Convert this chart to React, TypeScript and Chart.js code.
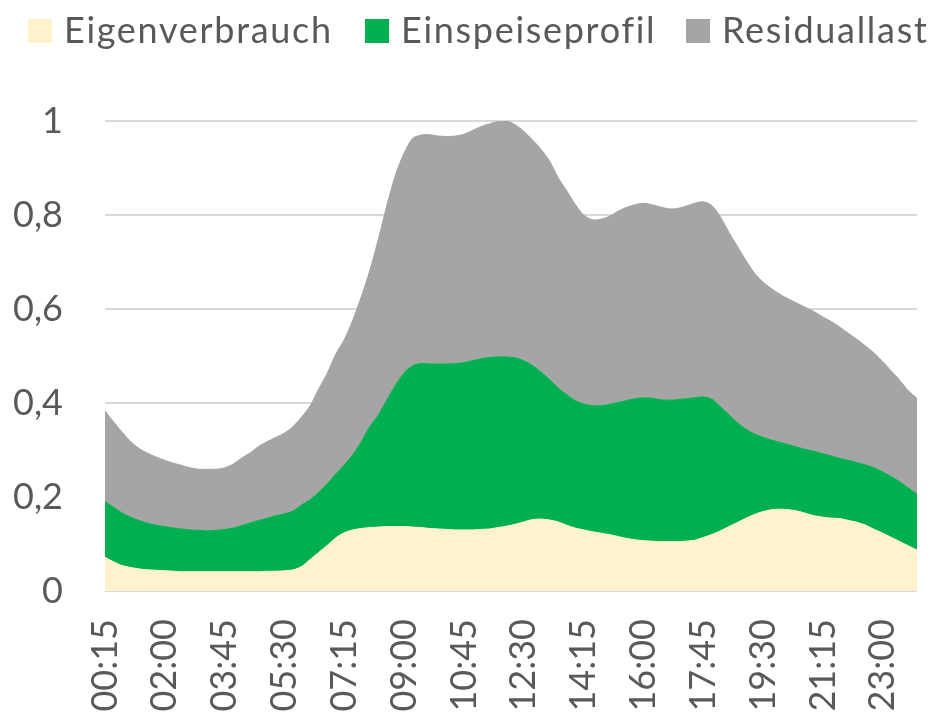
import React, { useEffect, useRef } from "react";
import { Chart, registerables } from "chart.js";

Chart.register(...registerables);

const timeLabels = [
  "00:15", "00:30", "00:45", "01:00", "01:15", "01:30", "01:45", "02:00",
  "02:15", "02:30", "02:45", "03:00", "03:15", "03:30", "03:45", "04:00",
  "04:15", "04:30", "04:45", "05:00", "05:15", "05:30", "05:45", "06:00",
  "06:15", "06:30", "06:45", "07:00", "07:15", "07:30", "07:45", "08:00",
  "08:15", "08:30", "08:45", "09:00", "09:15", "09:30", "09:45", "10:00",
  "10:15", "10:30", "10:45", "11:00", "11:15", "11:30", "11:45", "12:00",
  "12:15", "12:30", "12:45", "13:00", "13:15", "13:30", "13:45", "14:00",
  "14:15", "14:30", "14:45", "15:00", "15:15", "15:30", "15:45", "16:00",
  "16:15", "16:30", "16:45", "17:00", "17:15", "17:30", "17:45", "18:00",
  "18:15", "18:30", "18:45", "19:00", "19:15", "19:30", "19:45", "20:00",
  "20:15", "20:30", "20:45", "21:00", "21:15", "21:30", "21:45", "22:00",
  "22:15", "22:30", "22:45", "23:00", "23:15", "23:30", "23:45", "00:00",
];

const eigenverbrauch = [
  0.072, 0.062, 0.054, 0.050, 0.047, 0.045, 0.044, 0.043, 0.042, 0.041,
  0.041, 0.041, 0.041, 0.041, 0.041, 0.041, 0.041, 0.041, 0.041, 0.042,
  0.042, 0.043, 0.045, 0.052, 0.067, 0.082, 0.097, 0.113, 0.124, 0.130,
  0.133, 0.135, 0.136, 0.137, 0.137, 0.137, 0.136, 0.135, 0.133, 0.132,
  0.131, 0.130, 0.130, 0.130, 0.131, 0.132, 0.135, 0.138, 0.142, 0.147,
  0.152, 0.153, 0.151, 0.147, 0.140, 0.134, 0.130, 0.126, 0.123, 0.120,
  0.116, 0.112, 0.109, 0.107, 0.106, 0.105, 0.105, 0.105, 0.106, 0.108,
  0.114, 0.120, 0.128, 0.137, 0.146, 0.155, 0.163, 0.169, 0.173, 0.174,
  0.173, 0.170, 0.165, 0.160, 0.157, 0.155, 0.154, 0.150, 0.146, 0.140,
  0.131, 0.123, 0.114, 0.105, 0.096, 0.087,
];

const einspeiseprofil = [
  0.118, 0.116, 0.112, 0.107, 0.103, 0.099, 0.096, 0.094, 0.092, 0.091,
  0.089, 0.088, 0.087, 0.088, 0.090, 0.093, 0.098, 0.104, 0.109, 0.113,
  0.118, 0.121, 0.125, 0.131, 0.127, 0.128, 0.131, 0.136, 0.144, 0.160,
  0.185, 0.215, 0.239, 0.270, 0.301, 0.327, 0.343, 0.349, 0.350, 0.351,
  0.352, 0.354, 0.356, 0.360, 0.363, 0.365, 0.363, 0.360, 0.354, 0.343,
  0.328, 0.313, 0.299, 0.285, 0.278, 0.271, 0.268, 0.268, 0.271, 0.277,
  0.285, 0.293, 0.300, 0.304, 0.304, 0.302, 0.301, 0.302, 0.303, 0.303,
  0.299, 0.288, 0.264, 0.238, 0.212, 0.189, 0.171, 0.158, 0.148, 0.142,
  0.138, 0.136, 0.136, 0.137, 0.135, 0.132, 0.128, 0.128, 0.127, 0.128,
  0.131, 0.130, 0.129, 0.127, 0.123, 0.119,
];

const residuallast = [
  0.193, 0.182, 0.172, 0.161, 0.153, 0.149, 0.145, 0.141, 0.138, 0.135,
  0.132, 0.130, 0.131, 0.130, 0.131, 0.136, 0.144, 0.149, 0.158, 0.163,
  0.167, 0.172, 0.180, 0.187, 0.200, 0.220, 0.235, 0.255, 0.267, 0.287,
  0.309, 0.333, 0.375, 0.415, 0.448, 0.468, 0.484, 0.486, 0.488, 0.485,
  0.484, 0.484, 0.486, 0.490, 0.494, 0.497, 0.501, 0.502, 0.496, 0.488,
  0.480, 0.474, 0.465, 0.448, 0.434, 0.418, 0.402, 0.396, 0.397, 0.400,
  0.407, 0.411, 0.413, 0.414, 0.412, 0.410, 0.407, 0.407, 0.410, 0.414,
  0.415, 0.412, 0.404, 0.388, 0.375, 0.359, 0.342, 0.330, 0.322, 0.315,
  0.310, 0.306, 0.302, 0.297, 0.291, 0.286, 0.279, 0.270, 0.262, 0.253,
  0.244, 0.235, 0.225, 0.216, 0.207, 0.204,
];

const seriesNames = ["Eigenverbrauch", "Einspeiseprofil", "Residuallast"];
const seriesColors = ["#FFF2CC", "#00B050", "#A5A5A5"];
const yMin = 0;
const yMax = 1;
const yStep = 0.2;
const labelEvery = 7;

const TEXT_COLOR = "#595959";
const FONT_FAMILY = "Lato, 'Open Sans', sans-serif";

const legendLayout = [
  { box: 28, text: 64 },
  { box: 365, text: 401 },
  { box: 686, text: 722 },
];

export default function App() {
  const ref = useRef<HTMLCanvasElement>(null);

  useEffect(() => {
    const canvas = ref.current;
    if (!canvas) return;
    const seriesData = [eigenverbrauch, einspeiseprofil, residuallast];
    const chart = new Chart(canvas, {
      type: "line",
      data: {
        labels: timeLabels,
        datasets: seriesNames.map((name, i) => ({
          label: name,
          data: seriesData[i],
          backgroundColor: seriesColors[i],
          borderColor: seriesColors[i],
          borderWidth: 1,
          pointRadius: 0,
          pointHoverRadius: 0,
          tension: 0.3,
          fill: i === 0 ? "origin" : "-1",
        })),
      },
      options: {
        animation: false,
        responsive: false,
        devicePixelRatio: 1,
        layout: { padding: { top: 121, right: 13, bottom: 0, left: 0 } },
        plugins: {
          legend: { display: false },
          tooltip: { enabled: false },
        },
        scales: {
          x: {
            type: "category",
            offset: false,
            grid: { display: false, drawTicks: false },
            border: { display: false },
            ticks: {
              autoSkip: false,
              maxRotation: 90,
              minRotation: 90,
              padding: 28,
              color: TEXT_COLOR,
              font: { family: FONT_FAMILY, size: 36 },
              callback: (_v: any, index: number) =>
                index % labelEvery === 0 ? timeLabels[index] : "",
            },
            afterFit: (scale: any) => {
              scale.height = 127;
              scale.paddingLeft = 0;
              scale.paddingRight = 0;
            },
          },
          y: {
            stacked: true,
            min: yMin,
            max: yMax,
            grid: { color: "#D9D9D9", lineWidth: 2, drawTicks: false },
            border: { display: false },
            ticks: {
              stepSize: yStep,
              padding: 42,
              color: TEXT_COLOR,
              font: { family: FONT_FAMILY, size: 36 },
              callback: (value: any) =>
                String(Number(Number(value).toFixed(1))).replace(".", ","),
            },
            afterFit: (scale: any) => {
              scale.width = 105;
            },
          },
        },
      },
    });
    if ((document as any).fonts && (document as any).fonts.load) {
      (document as any).fonts.load("36px Lato").then(() => chart.update()).catch(() => {});
    }
    return () => chart.destroy();
  }, []);

  return (
    <div
      style={{
        position: "absolute",
        left: 0,
        top: 0,
        width: 930,
        height: 718,
        background: "#ffffff",
        overflow: "hidden",
      }}
    >
      <canvas
        ref={ref}
        width={930}
        height={718}
        style={{ position: "absolute", left: 0, top: 0, width: 930, height: 718 }}
      />
      {seriesNames.map((name, i) => (
        <React.Fragment key={name}>
          <div
            style={{
              position: "absolute",
              left: legendLayout[i].box,
              top: 19,
              width: 24,
              height: 24,
              background: seriesColors[i],
            }}
          />
          <span
            style={{
              position: "absolute",
              left: legendLayout[i].text,
              top: 11,
              fontFamily: FONT_FAMILY,
              fontSize: 36,
              lineHeight: "36px",
              letterSpacing: "1.7px",
              color: TEXT_COLOR,
              whiteSpace: "nowrap",
            }}
          >
            {name}
          </span>
        </React.Fragment>
      ))}
    </div>
  );
}
